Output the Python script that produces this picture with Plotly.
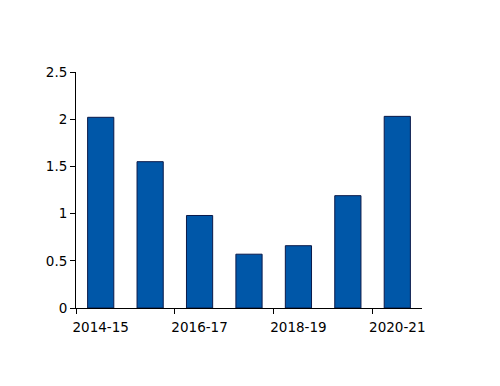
import plotly.graph_objects as go

categories = ["2014-15", "2015-16", "2016-17", "2017-18", "2018-19", "2019-20", "2020-21"]
values = [2.02, 1.55, 0.98, 0.57, 0.66, 1.19, 2.03]
y_ticks = [0, 0.5, 1, 1.5, 2, 2.5]
y_tick_labels = ["0", "0.5", "1", "1.5", "2", "2.5"]

xpos = list(range(len(categories)))
label_idx = xpos[::2]
boundaries = [i - 0.5 for i in xpos[::2]]

fig = go.Figure(go.Bar(
    x=xpos, y=values, width=0.53,
    marker=dict(color="#0057A8", line=dict(color="#0A1A4A", width=1)),
))

fig.update_layout(
    width=500, height=386,
    margin=dict(l=68, r=86, t=64, b=86),
    paper_bgcolor="white", plot_bgcolor="white",
    showlegend=False,
    font=dict(family="DejaVu Sans", size=13.5, color="black"),
)
fig.update_xaxes(
    range=[-0.5, 6.5],
    tickvals=label_idx, ticktext=[categories[i] for i in label_idx],
    ticks="", showgrid=False, zeroline=False,
    showline=True, linecolor="black", linewidth=1,
    minor=dict(tickvals=boundaries, ticks="outside", ticklen=5, tickcolor="black", showgrid=False),
    tickfont=dict(size=13.5),
    ticklabelstandoff=7,
)
fig.update_yaxes(
    range=[0, 2.5],
    tickvals=y_ticks, ticktext=y_tick_labels,
    ticks="outside", ticklen=5, tickcolor="black",
    showgrid=False, zeroline=False,
    showline=True, linecolor="black", linewidth=1,
    tickfont=dict(size=13.5),
)

fig.write_html("out.html")
